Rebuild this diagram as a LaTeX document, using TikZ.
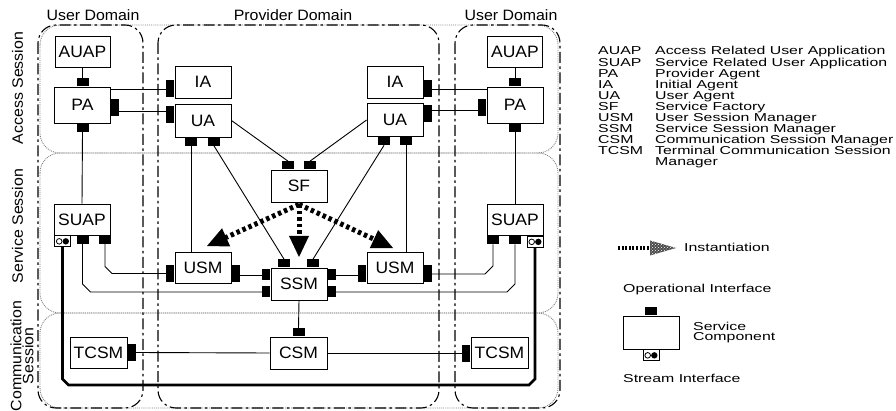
\documentclass[tikz,border=0pt]{standalone}
\usepackage{fontspec}
\setmainfont{Liberation Sans}
\newfontfamily\dfont[FakeStretch=1.06]{Liberation Sans}
\newfontfamily\lfont[FakeStretch=1.38]{Liberation Sans}
\usetikzlibrary{calc,patterns}
\begin{document}
\begin{tikzpicture}[x=1pt,y=-1pt,
  box/.style={draw,line width=0.9pt,fill=white,minimum width=56pt,minimum height=32pt,inner sep=0pt,font=\dfont\fontsize{16.5}{18}\selectfont},
  ph/.style={fill=black,minimum width=12pt,minimum height=8pt,inner sep=0pt},
  pv/.style={fill=black,minimum width=8pt,minimum height=17pt,inner sep=0pt},
  pvs/.style={fill=black,minimum width=8pt,minimum height=11pt,inner sep=0pt},
  sp/.style={draw,line width=0.8pt,fill=white,minimum width=16pt,minimum height=11pt,inner sep=0pt},
  conn/.style={line width=0.9pt},
  dom/.style={line width=1.1pt,dash pattern=on 11pt off 3.5pt on 2.5pt off 3.5pt,rounded corners=18pt},
  sess/.style={gray,line width=0.9pt,densely dotted,rounded corners=20pt},
  strm/.style={line width=2.6pt},
  inst/.style={line width=5pt,dash pattern=on 3.5pt off 3pt},
  lbl/.style={font=\dfont\fontsize{15}{12}\selectfont,inner sep=0pt},
  leg/.style={font=\lfont\fontsize{11.5}{10}\selectfont,inner sep=0pt,anchor=base west}
]
\useasboundingbox (0,0) rectangle (896,411);

% sessions and domains
\draw[sess] (40,25) rectangle (558,153);
\draw[sess] (40,153) rectangle (558,313);
\draw[sess] (40,313) rectangle (558,408);
\draw[dom] (38,25) rectangle (143,408);
\draw[dom] (158,25) rectangle (439,408);
\draw[dom] (455,25) rectangle (560,408);

% headers
\node[lbl] (hUL) at (93,15) {User Domain};
\node[lbl] (hP) at (293,15) {Provider Domain};
\node[lbl] (hUR) at (511,15) {User Domain};
\node[lbl,rotate=90,anchor=base] (sA) at (23,88) {Access Session};
\node[lbl,rotate=90,anchor=base] (sS) at (23,226) {Service Session};
\node[lbl,rotate=90,align=center] (sC) at (22,356) {Communication\\Session};

% boxes
\node[box,minimum width=55pt,minimum height=31pt] (auapL) at (82.5,51.5) {AUAP};
\node[box,minimum height=36pt] (paL) at (82.5,105) {PA};
\node[box] (iaL) at (203,82) {IA};
\node[box,minimum height=33pt] (uaL) at (203,120.5) {UA};
\node[box] (sf) at (299,186) {SF};
\node[box,minimum height=31pt] (usmL) at (203,268) {USM};
\node[box] (ssm) at (299,284) {SSM};
\node[box,minimum width=57pt] (csm) at (298.5,353) {CSM};
\node[box,minimum width=57pt,minimum height=31pt] (tcsmL) at (98.5,352.5) {TCSM};
\node[box,minimum height=31pt] (suapL) at (82,219.5) {SUAP};
\node[box,minimum width=55pt,minimum height=31pt] (auapR) at (515,51.5) {AUAP};
\node[box,minimum height=36pt] (paR) at (515,105) {PA};
\node[box] (iaR) at (395,82) {IA};
\node[box,minimum height=33pt] (uaR) at (395,120) {UA};
\node[box,minimum height=31pt] (usmR) at (395,268) {USM};
\node[box,minimum height=31pt] (suapR) at (515,220) {SUAP};
\node[box,minimum width=57pt,minimum height=31pt] (tcsmR) at (499.5,353) {TCSM};

% ports left
\node[ph,anchor=south] (paLt) at (paL.north) {};
\node[ph,anchor=north] (paLb) at (paL.south) {};
\node[pv,anchor=west] (paLr) at ($(paL.east)+(0,3)$) {};
\node[pv,anchor=east] (iaLl) at ($(iaL.west)+(0,7)$) {};
\node[pv,anchor=east] (uaLl) at ($(uaL.west)+(0,-6)$) {};
\node[ph,anchor=north] (uaLb1) at ($(uaL.south)+(-12,0)$) {};
\node[ph,anchor=north] (uaLb2) at ($(uaL.south)+(11,0)$) {};
\node[ph,anchor=south] (sft1) at ($(sf.north)+(-11,0)$) {};
\node[ph,anchor=south] (sft2) at ($(sf.north)+(11,0)$) {};
\node[ph,anchor=south] (ssmt1) at ($(ssm.north)+(-15,0)$) {};
\node[ph,anchor=south] (ssmt2) at ($(ssm.north)+(14,0)$) {};
\node[pvs,anchor=east] (ssml1) at ($(ssm.west)+(0,-9)$) {};
\node[pvs,anchor=east] (ssml2) at ($(ssm.west)+(0,8)$) {};
\node[pvs,anchor=west] (ssmr1) at ($(ssm.east)+(0,-9)$) {};
\node[pvs,anchor=west] (ssmr2) at ($(ssm.east)+(0,8)$) {};
\node[ph,anchor=south] (csmt) at (csm.north) {};
\node[pv,anchor=east] (usmLl) at ($(usmL.west)+(0,5.5)$) {};
\node[pv,anchor=west] (usmLr) at ($(usmL.east)+(0,5.5)$) {};
\node[pv,anchor=east] (usmRl) at ($(usmR.west)+(0,6)$) {};
\node[pv,anchor=west] (usmRr) at ($(usmR.east)+(0,6)$) {};
\node[pv,anchor=west] (tcsmLr) at (tcsmL.east) {};
\node[pv,anchor=east] (tcsmRl) at (tcsmR.west) {};
\node[sp,anchor=north] (suapLs) at ($(suapL.south)+(-19.5,0)$) {};
\node[ph,anchor=north] (suapLp1) at ($(suapL.south)+(0.5,0)$) {};
\node[ph,anchor=north] (suapLp2) at ($(suapL.south)+(23,0)$) {};
% ports right
\node[ph,anchor=south] (paRt) at (paR.north) {};
\node[ph,anchor=north] (paRb) at (paR.south) {};
\node[pv,anchor=east] (paRl) at ($(paR.west)+(0,3)$) {};
\node[pv,anchor=west] (iaRr) at ($(iaR.east)+(0,7)$) {};
\node[pv,anchor=west] (uaRr) at ($(uaR.east)+(0,-6)$) {};
\node[ph,anchor=north] (uaRb1) at ($(uaR.south)+(-11,0)$) {};
\node[ph,anchor=north] (uaRb2) at ($(uaR.south)+(11,0)$) {};
\node[ph,anchor=north] (suapRp1) at ($(suapR.south)+(-22,0)$) {};
\node[ph,anchor=north] (suapRp2) at (suapR.south) {};
\node[sp,anchor=north] (suapRs) at ($(suapR.south)+(20,0)$) {};

% connectors
\draw[conn] (auapL.south) -- (paLt.north);
\draw[conn] (paLb.south) -- (suapL.north);
\draw[conn] (iaLl.west) -- (iaLl.west -| paL.east);
\coordinate (lkL) at ($(uaLl.west)+(0,-3.5)$);
\draw[conn] (lkL) -- (lkL -| paLr.east);
\draw[conn] (uaLb1.south) -- (uaLb1.south |- usmL.north);
\draw[conn] (uaLb2.south) -- (ssmt1.north);
\draw[conn] (uaL.east) -- (sft1.north);
\draw[conn] (uaR.west) -- (sft2.north);
\draw[conn] (uaRb1.south) -- (ssmt2.north);
\draw[conn] (uaRb2.south) -- (uaRb2.south |- usmR.north);
\draw[conn] (iaRr.east) -- (iaRr.east -| paR.west);
\coordinate (lkR) at ($(uaRr.east)+(0,-3.5)$);
\draw[conn] (lkR) -- (lkR -| paRl.west);
\draw[conn] (auapR.south) -- (paRt.north);
\draw[conn] (paRb.south) -- (suapR.north);
\coordinate (kA) at (suapLp2.south |- usmLl.west);
\draw[conn] (suapLp2.south) -- ($(kA)+(0,-7)$) -- ($(kA)+(7,0)$) -- (usmLl.west);
\coordinate (kB) at (suapLp1.south |- ssml2.west);
\draw[conn] (suapLp1.south) -- ($(kB)+(0,-8)$) -- ($(kB)+(8,0)$) -- (ssml2.west);
\draw[conn] (usmLr.east |- ssml1.west) -- (ssml1.west);
\draw[conn] (ssmr1.east) -- (ssmr1.east -| usmRl.west);
\coordinate (kC) at (suapRp1.south |- usmRr.east);
\draw[conn] (usmRr.east) -- ($(kC)+(-8,0)$) -- ($(kC)+(0,-8)$) -- (suapRp1.south);
\coordinate (kD) at (suapRp2.south |- ssmr2.east);
\draw[conn] (ssmr2.east) -- ($(kD)+(-8,0)$) -- ($(kD)+(0,-8)$) -- (suapRp2.south);
\draw[conn] (ssm.south) -- (csmt.north);
\draw[conn] (tcsmLr.east) -- (csm.west);
\draw[conn] (csm.east) -- (tcsmRl.west);

% stream line
\coordinate (sb) at (0,385);
\coordinate (sL) at (suapLs.south |- sb);
\coordinate (sR) at (suapRs.south |- sb);
\draw[strm] (suapLs.south) -- ($(sL)+(0,-6)$) -- ($(sL)+(6,0)$) -- ($(sR)+(-6,0)$) -- ($(sR)+(0,-6)$) -- (suapRs.south);

% instantiation arrows
\coordinate (io) at ($(sf.south)+(0,2)$);
\coordinate (tipL) at (207,246);
\coordinate (tipD) at (299,257);
\coordinate (tipR) at (393,248);
\foreach \t in {tipL,tipD,tipR}{
  \draw[inst] (io) -- ($(\t)!18pt!(io)$);
  \fill (\t) -- ($(\t)!21pt!(io)!10pt!90:(\t)$) -- ($(\t)!21pt!(io)!10pt!-90:(\t)$) -- cycle;
}

% legend
\foreach \a/\b [count=\i from 0] in {AUAP/Access Related User Application,SUAP/Service Related User Application,PA/Provider Agent,IA/Initial Agent,UA/User Agent,SF/Service Factory,USM/User Session Manager,SSM/Service Session Manager,CSM/Communication Session Manager,TCSM/Terminal Communication Session}{
  \node[leg] (la\i) at (598,55+11.1*\i) {\a};
  \node[leg] (lb\i) at (655,55+11.1*\i) {\b};
}
\node[leg] (lbm) at (655,166) {Manager};

\coordinate (li0) at (618,248);
\coordinate (li1) at (676,248);
\draw[line width=4pt,dash pattern=on 2pt off 1.6pt] (li0) -- ($(li1)+(-25,0)$);
\fill[black!70] (li1) -- ($(li1)+(-26,-7.5)$) -- ($(li1)+(-26,7.5)$) -- cycle;
\fill[pattern=crosshatch dots,pattern color=white] (li1) -- ($(li1)+(-26,-7.5)$) -- ($(li1)+(-26,7.5)$) -- cycle;
\node[leg] (lInst) at (684,252) {Instantiation};
\node[leg] (lOp) at (623,293) {Operational Interface};
\node[box,minimum height=33pt] (lbox) at (651,332.5) {};
\node[ph,anchor=south] (lboxt) at (lbox.north) {};
\node[sp,anchor=north] (lboxs) at (lbox.south) {};
\node[leg,anchor=west,align=left] (lSC) at (693,333) {Service\\Component};
\node[leg] (lSt) at (623,382) {Stream Interface};

% stream port symbols
\foreach \s in {suapLs,suapRs,lboxs}{
  \draw[line width=0.8pt] ($(\s.center)+(-3.3,0)$) circle (2.8pt);
  \fill ($(\s.center)+(3.3,0)$) circle (3.2pt);
}
\end{tikzpicture}
\end{document}
